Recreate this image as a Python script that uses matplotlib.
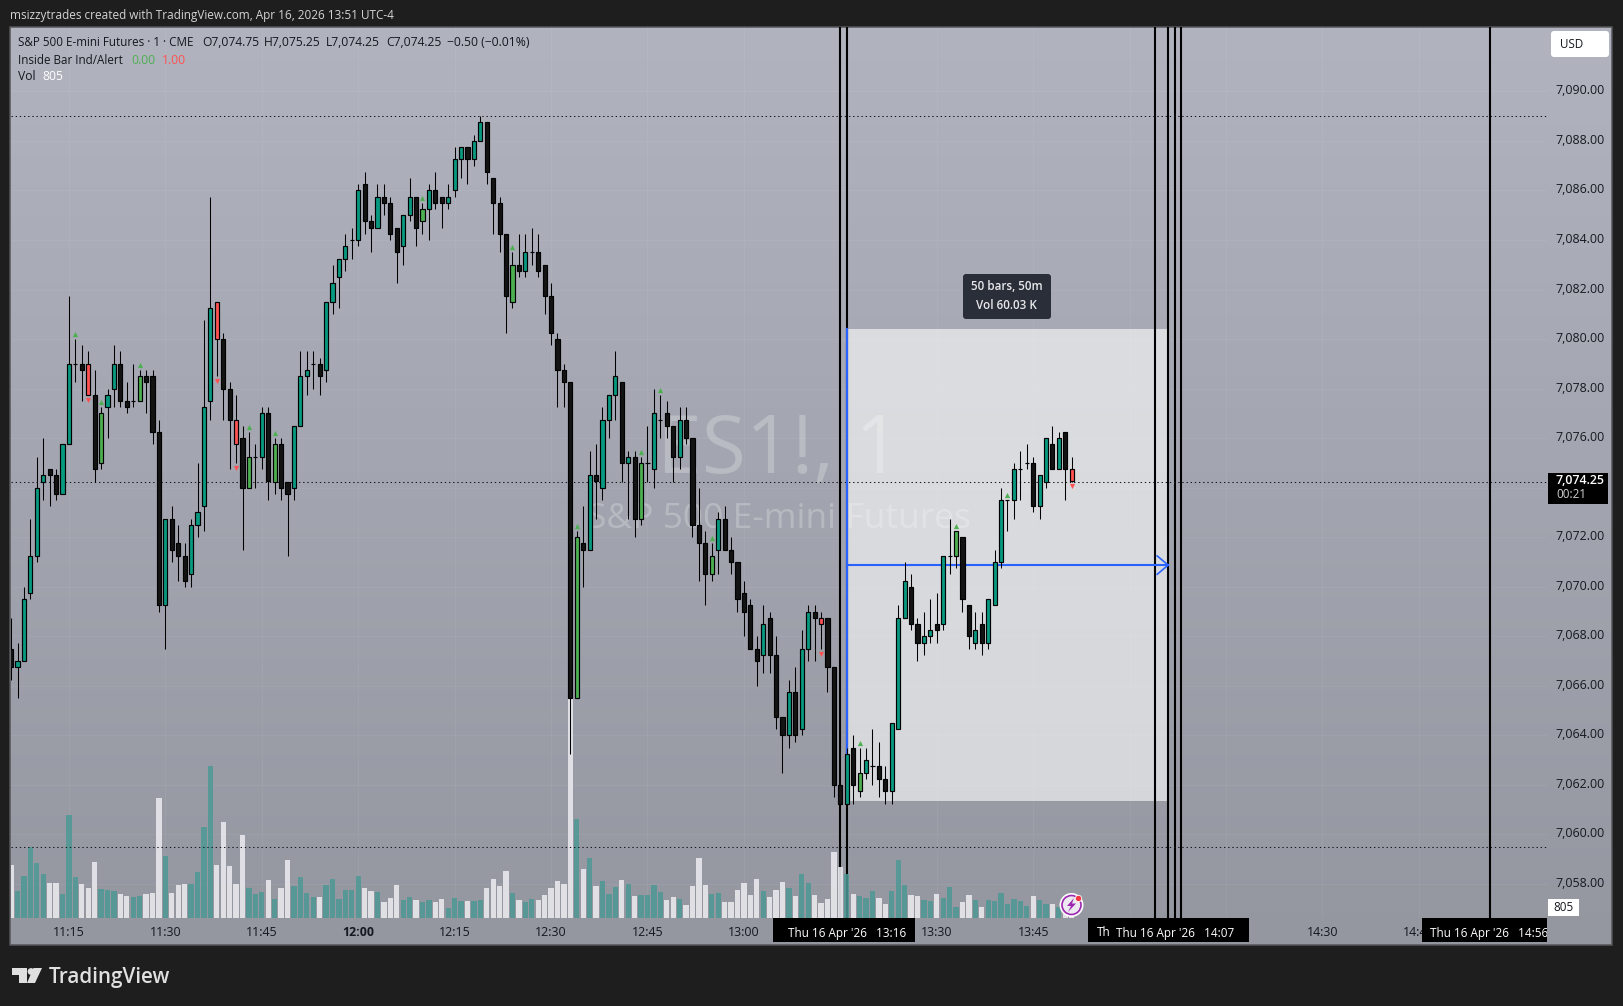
import numpy as np
import matplotlib
matplotlib.use("Agg")
import matplotlib.pyplot as plt
from matplotlib.patches import Rectangle, FancyBboxPatch, Circle, Polygon
from matplotlib.transforms import ScaledTranslation

W, H = 1623, 1006

# one minute bars, first bar is 11:06
opens = [7067.5,7066.75,7067,7069.75,7071.25,7074.25,7074.75,7074.5,7073.75,7075.75,
	7079,7079,7079,7077.75,7075,7077.25,7078,7079,7077.5,7077.5,
	7077.5,7078.5,7078.5,7076.25,7069.25,7072.75,7071.75,7071.25,7070.5,7072.5,
	7073.25,7077.5,7081.5,7080,7078,7076.75,7076,7074,7075.25,7075.25,
	7077,7074.25,7075.75,7074.25,7074,7076.5,7078.5,7079,7079,7078.75,
	7081.5,7082.5,7083.25,7084,7084,7086.25,7084.75,7084.5,7085.75,7085.5,
	7084.5,7083.75,7085,7085.75,7084.75,7085.25,7086,7085.75,7085.5,7086,
	7087.25,7087.75,7087.25,7088,7088.75,7086.5,7085.5,7084.25,7081.5,7083,
	7082.75,7083.5,7083.5,7083,7081.75,7080,7078.75,7078.25,7065.5,7071.75,
	7071.5,7074.5,7074,7076.75,7077.75,7078.25,7075,7075.25,7072.75,7075,
	7074.75,7076.75,7077,7076.5,7075.25,7076.75,7076,7072.5,7071.75,7070.5,
	7071.5,7072.75,7071.5,7071,7069.75,7069.25,7067.5,7067.25,7068.75,7067.25,
	7064.75,7064,7065.75,7064.25,7067.5,7069,7068.75,7068.75,7066.75,7062,
	7061.25,7063.5,7061.75,7062.5,7062.75,7062.75,7062.25,7061.75,7064.25,7068.75,
	7070,7068.5,7067.75,7068,7068.5,7068.5,7071.25,7071.25,7072,7069.25,
	7067.75,7068.5,7067.75,7069.25,7071,7073.5,7073.5,7074.75,7075,7075,
	7073.25,7074.25,7075.75,7074.75,7076.25,7074.75]
closes = [7066.75,7067,7069.5,7071.25,7074,7074.5,7074.5,7073.75,7075.75,7079,
	7079,7078.75,7077.75,7074.75,7077,7077.75,7079,7077.5,7077.25,7077.5,
	7078.5,7078.25,7076.25,7069.25,7072.75,7071.5,7071.25,7070.25,7072.5,7073,
	7077.25,7081.25,7080,7078,7076.75,7075.75,7074,7075.25,7075.25,7077,
	7074.25,7075.75,7074,7073.75,7076.5,7078.5,7078.75,7079,7078.5,7081.5,
	7082.25,7083.25,7083.75,7084,7086,7084.75,7084.5,7085.75,7085.5,7084.25,
	7083.5,7085,7085.75,7084.5,7085.25,7086,7085.5,7085.5,7085.75,7087.25,
	7087.75,7087.25,7088,7088.75,7086.75,7085.5,7084.25,7081.75,7083,7082.75,
	7083.5,7083.5,7082.75,7081.75,7080.25,7078.75,7078.25,7065.5,7072,7071.5,
	7074.5,7074.25,7076.75,7077.75,7078.5,7075,7075.25,7072.75,7075,7075,
	7077,7076.75,7076.5,7075.25,7076.75,7076,7072.5,7071.75,7070.5,7071.25,
	7072.75,7071.5,7071,7069.5,7069,7067.5,7067,7068.5,7067.25,7064.75,
	7064,7065.75,7064,7067.5,7069,7068.75,7068.5,7066.75,7062,7061.25,
	7063.25,7062,7062.5,7063,7062.75,7062.25,7061.75,7064.5,7068.75,7070.25,
	7068.5,7067.75,7068,7068.25,7068.25,7071.25,7071.25,7072.25,7069.5,7068,
	7068.25,7067.75,7069.5,7071,7073.5,7073.5,7074.75,7074.75,7075,7073.25,
	7074.5,7076,7074.75,7076,7074.75,7074.25]
highs = [7068.75,7067.75,7070,7072.75,7075.25,7076,7074.75,7074.75,7075.75,7081.75,
	7080,7079.75,7079.5,7078.75,7077.25,7078,7079.75,7079.5,7078.25,7079,
	7078.75,7078.75,7078.75,7076.75,7072.75,7073.25,7072.5,7071.75,7072.75,7075,
	7080.75,7085.75,7081.5,7080.25,7078.25,7077.75,7076.5,7076.25,7075.75,7077.25,
	7077.25,7076,7076,7074.25,7076.5,7079.5,7079.5,7079.5,7079.25,7081.5,
	7083,7083.25,7084.25,7084.5,7086.25,7086.75,7085,7086.25,7086.25,7085.75,
	7084.5,7085,7086.5,7085.75,7085.5,7086.25,7086.75,7085.75,7086.25,7087.75,
	7087.75,7087.75,7088.25,7089,7088.75,7086.5,7085.75,7084.25,7083.5,7084.25,
	7084.25,7084.5,7084.25,7083,7082.25,7080.25,7079,7078.25,7072.25,7073.25,
	7075.5,7075.75,7077.25,7077.75,7079.5,7078.25,7075.5,7075.5,7075.25,7076.5,
	7078,7077.75,7077.5,7076.5,7077.25,7077.25,7076,7074,7072.25,7071.75,
	7073,7073.25,7072,7071,7070.25,7069.5,7068,7069.25,7069,7068,
	7064.75,7066.25,7066.75,7068.25,7069.25,7069.25,7069,7068.75,7066.75,7062,
	7063.5,7064,7063.5,7063.5,7064.25,7063.75,7062.75,7064.5,7069.25,7071,
	7070.5,7068.75,7069,7069.5,7069.75,7071.25,7072.75,7072.25,7072,7069.25,
	7069,7069,7069.5,7071.5,7074,7073.5,7075,7075.5,7075.75,7075.25,
	7074.5,7076,7076.5,7076.25,7076.25,7075.25]
lows = [7066.25,7065.5,7067,7069.5,7071,7073.5,7073.25,7073.5,7073.75,7075.75,
	7078.25,7077.5,7077.75,7074.25,7074.75,7076,7077.25,7077.25,7077,7077.25,
	7077.5,7077,7075.75,7069,7067.5,7071,7070.25,7070,7070,7072,
	7072.25,7076.75,7078.5,7076.75,7074.75,7075,7071.5,7074,7074,7074.75,
	7073.5,7073.75,7073.5,7071.25,7073.5,7076.5,7077.75,7078,7077.75,7078.25,
	7081,7081.25,7082.75,7083.25,7083.75,7084.25,7083.5,7084.5,7085,7084,
	7082.25,7083,7084.75,7083.75,7084.25,7084,7085.25,7084.5,7085.25,7085.75,
	7086.5,7086.25,7087,7088,7086.25,7084.25,7083.5,7080.25,7081.25,7082.5,
	7082.5,7083,7082.5,7081,7079.75,7077.25,7077.25,7063.25,7065.5,7070,
	7071.5,7072.75,7073.5,7076,7076.75,7074.25,7072.75,7072,7072.5,7074.25,
	7074,7076,7076,7074.25,7074.75,7075.75,7072,7070.25,7069.25,7070.25,
	7070.5,7071.5,7070.5,7069,7068,7067.5,7066,7066.5,7066.5,7064.25,
	7062.5,7063.5,7063.75,7064,7067,7067,7067.5,7065.75,7061.5,7061.25,
	7061.25,7061.25,7061.5,7062.25,7062,7061.5,7061.25,7061.25,7064.25,7068.75,
	7068.25,7067,7067.25,7067.75,7067.75,7068.25,7070.5,7070.75,7069,7067.5,
	7067.5,7067.25,7067.5,7069.25,7070.75,7072.25,7072.75,7073.5,7074.75,7073,
	7072.75,7074,7074.75,7074.75,7073.5,7074.25]
volumes = [4108,2080,3250,5538,4264,3406,2704,2704,1846,8008,
	3172,2626,2314,4342,2236,2158,2080,1846,1690,1612,
	1690,1846,1924,9334,4810,1924,2548,2626,2626,3562,
	7072,11830,4108,7462,4030,2626,6448,2314,1846,2002,
	2938,1456,2314,4498,2470,3172,1924,1612,1612,2548,
	3016,1456,2158,2158,3250,2314,2080,2002,1222,1534,
	2548,1378,1612,1378,1222,1378,1222,1456,754,1534,
	1300,1300,1300,1378,2314,3016,2470,3640,1924,1378,
	1222,1456,1378,1768,2314,2860,2626,17800,7696,3796,
	4654,2470,2860,1846,2392,2938,2626,1690,1768,1768,
	2548,2002,1378,1612,1456,988,2470,4654,2548,1846,
	1924,1222,1222,2158,2704,1768,3016,2080,1612,2158,
	2782,2314,1690,3406,2704,1768,1144,1456,5122,3952,
	3406,1846,1690,1534,2080,1534,1066,2080,4498,2548,
	1768,1690,1378,1300,1846,1534,2392,832,1222,1768,
	1378,832,1378,1300,1924,1066,1456,1300,910,1690,
	1378,1066,1066,832,1300,805]

# inside bar indicator hits (bar numbers)
up_marks = [10,14,20,37,41,64,78,88,98,101,109,132,147,155]
down_marks = [12,32,35,126,165]

# bar numbers of the vertical lines, of the time range tool and of the axis ticks
vline_bars = [129,130,178,180,181,182,230]
range_start, range_end = 130, 180
range_low, range_high = 7061.35, 7080.4
dotted_prices = [7089,7074.25,7059.5]
price_ticks = list(range(7058, 7092, 2))
time_bars = [9,24,39,54,69,84,99,114,129,144,159,174,189,204,219]
# 13:15, 14:00 and 14:15 sit under the black date labels
time_labels = ["11:15","11:30","11:45","12:00","12:15","12:30","12:45","13:00","",
	"13:30","13:45","","","14:30","14:45"]

TEAL = "#089981"
BLACK = "#131313"
GREEN = "#4caf50"
RED = "#ff5252"
BLUE = "#2962ff"
DARK = "#1e1e1e"
TXT = "#16181f"
plt.rcParams["font.family"] = ["Open Sans", "DejaVu Sans"]

# pixel layout of the panes
plot_l, plot_r, plot_t, plot_b = 11, 1547, 27, 918
px_bar = 6.428
px_pt = 24.77
x0 = (plot_l - 11.1) / px_bar
x1 = (plot_r - 11.1) / px_bar
p_top = 7074.25 + (481.5 - plot_t) / px_pt
p_bot = 7074.25 - (plot_b - 481.5) / px_pt

def pane(l, t, r, b, zorder):
	a = fig.add_axes([l / W, 1 - b / H, (r - l) / W, (b - t) / H], zorder=zorder)
	a.patch.set_alpha(0)
	for s in a.spines.values():
		s.set_visible(False)
	return a

fig = plt.figure(figsize=(W / 100, H / 100), dpi=100, facecolor=DARK)

# background gradient
bg = pane(0, 0, W, H, 0)
bg.axis("off")
top_col = np.array([177, 180, 191]) / 255
bot_col = np.array([148, 151, 160]) / 255
grad = np.linspace(top_col, bot_col, 256)[:, None, :]
bg.imshow(grad, extent=(10, 1612, 945, 27), aspect="auto", zorder=0)
bg.set_xlim(0, W)
bg.set_ylim(H, 0)
bg.add_patch(Rectangle((10, 27), 1602, 918, fill=False, ec="#55565a", lw=1.1, zorder=1))

# back layer: grid, watermark, range box, black lines
back = pane(plot_l, plot_t, plot_r, plot_b, 1)
back.set_xlim(x0, x1)
back.set_ylim(p_bot, p_top)
back.set_xticks([])
back.set_yticks([])
for b in time_bars:
	back.axvline(b, color="white", alpha=0.05, lw=0.8, zorder=0)
for p in price_ticks:
	back.axhline(p, color="white", alpha=0.05, lw=0.8, zorder=0)
back.text(0.5, (plot_b - 452) / (plot_b - plot_t), "ES1!, 1", transform=back.transAxes, ha="center", va="center",
	fontsize=58, color="white", alpha=0.24, zorder=1)
back.text(0.5, (plot_b - 519) / (plot_b - plot_t), "S&P 500 E-mini Futures", transform=back.transAxes, ha="center", va="center",
	fontsize=25.5, color="white", alpha=0.24, zorder=1)
back.add_patch(Rectangle((range_start, range_low), range_end - range_start, range_high - range_low,
	fc="white", alpha=0.6, lw=0, zorder=2))
for b in vline_bars:
	back.axvline(b, color="black", lw=1.5, zorder=3)

# volume
vol = pane(plot_l, plot_t, plot_r, plot_b, 2)
vol.set_xlim(x0, x1)
vol.set_ylim(0, (plot_b - plot_t) * 78)
vol.set_xticks([])
vol.set_yticks([])
bars = np.arange(len(opens))
vol_cols = [(0.30, 0.60, 0.59, 0.85) if c >= o else (0.90, 0.90, 0.92, 0.92) for o, c in zip(opens, closes)]
vol.bar(bars, volumes, width=0.82, color=vol_cols, lw=0)

# price pane
ax = pane(plot_l, plot_t, plot_r, plot_b, 3)
ax.set_xlim(x0, x1)
ax.set_ylim(p_bot, p_top)
for p in dotted_prices:
	ax.axhline(p, color="#15161a", lw=0.75, dashes=(1.3, 2.7), zorder=1)

# range tool lines, above the black lines but below the candles
ax.plot([range_start, range_start], [range_low, range_high], color=BLUE, lw=1.6, zorder=2)
mid = (range_low + range_high) / 2
ax.plot([range_start, range_end], [mid, mid], color=BLUE, lw=1.5, zorder=2)
ax.plot([range_end - 1.7, range_end, range_end - 1.7], [mid + 0.37, mid, mid - 0.37], color=BLUE, lw=1.2, zorder=2,
	solid_joinstyle="miter")

body_cols = []
for i, (o, c) in enumerate(zip(opens, closes)):
	if i in down_marks:
		body_cols.append(RED)
	elif i in up_marks and c > o:
		body_cols.append(GREEN)
	elif c >= o:
		body_cols.append(TEAL)
	else:
		body_cols.append(BLACK)
ax.vlines(bars, lows, highs, color="black", lw=0.75, zorder=3)
ax.bar(bars, np.array(closes) - np.array(opens), bottom=opens, width=0.64, color=body_cols,
	edgecolor="black", lw=0.85, zorder=4)
ax.scatter(up_marks, [highs[i] + 0.2 for i in up_marks], marker="^", s=14, color=GREEN, lw=0, zorder=5)
ax.scatter(down_marks, [lows[i] - 0.2 for i in down_marks], marker="v", s=14, color=RED, lw=0, zorder=5)

# axes ticks, 7,074.00 is hidden by the last price tag
ax.yaxis.tick_right()
ax.set_yticks(price_ticks)
ax.set_yticklabels(["" if p == 7074 else f"{p:,.2f}" for p in price_ticks])
ax.set_xticks(time_bars)
ax.set_xticklabels(time_labels)
ax.tick_params(axis="y", length=0, pad=6.3, labelsize=8.9, labelcolor=TXT)
ax.tick_params(axis="x", length=0, pad=5.8, labelsize=8.9, labelcolor=TXT)
ax.get_xticklabels()[time_labels.index("12:00")].set_fontweight("bold")
lift = ScaledTranslation(0, 2 / 100, fig.dpi_scale_trans)
for tl in ax.get_yticklabels():
	tl.set_transform(tl.get_transform() + lift)

# overlay: legend texts, tags, tooltip
top = pane(0, 0, W, H, 4)
top.set_xlim(0, W)
top.set_ylim(H, 0)
top.axis("off")

def label(x, y, s, color=TXT, size=8.7, ha="left", **kw):
	return top.text(x, y, s, color=color, fontsize=size, ha=ha, va="center", **kw)

label(10, 15, "msizzytrades created with TradingView.com, Apr 16, 2026 13:51 UTC-4", color="#d4d4d4", size=8.46)
label(18, 42.5, "S&P 500 E-mini Futures · 1 · CME", size=8.35)
label(202, 42.5, "O7,074.75")
label(264, 42.5, "H7,075.25")
label(326, 42.5, "L7,074.25")
label(386, 42.5, "C7,074.25")
label(447, 42.5, "−0.50 (−0.01%)")
label(18, 60, "Inside Bar Ind/Alert", size=8.4)
label(131, 60, "0.00", color=GREEN)
label(162, 60, "1.00", color=RED)
label(18, 76.5, "Vol")
label(42, 76.5, "805", color="white")

# tool tip over the range box
top.add_patch(FancyBboxPatch((966, 277), 82, 39, boxstyle="round,pad=3,rounding_size=3", fc="#2a2e39", ec="none"))
label(1006.5, 286, "50 bars, 50m", color="#e8e8ec", size=8.4, ha="center", fontweight="semibold")
label(1006.5, 305.5, "Vol 60.03 K", color="#e8e8ec", size=8.4, ha="center", fontweight="semibold")

# price side tags
top.add_patch(FancyBboxPatch((1553, 33), 54, 22, boxstyle="round,pad=2,rounding_size=3", fc="white", ec="none"))
label(1560, 44, "USD", size=8.4)
top.add_patch(Rectangle((1548, 473), 60, 31, fc="black", lw=0))
label(1556, 480.5, "7,074.25", color="white", size=8.9, fontweight="semibold")
label(1556, 494.5, "00:21", color="#d0d0d0", size=8.4)
top.add_patch(Rectangle((1547.5, 899), 31.5, 17, fc="white", lw=0))
label(1563, 907.5, "805", size=8.4, ha="center")

# black date labels of the vertical lines
for l, r in [(773, 915), (1088, 1248.5), (1422, 1547)]:
	top.add_patch(Rectangle((l, plot_b), r - l, 24, fc="black", lw=0))
label(788, 933, "Thu 16 Apr '26   13:16", color="white", size=8.5)
label(1096.5, 933, "Th", color="white", size=8.5)
label(1115.5, 933, "Thu 16 Apr '26   14:07", color="white", size=8.5)
t = label(1430, 933, "Thu 16 Apr '26   14:56", color="white", size=8.5)
t.set_clip_on(True)
t.set_clip_path(Rectangle((1422, plot_b), 125, 24, transform=top.transData))

# alert bolt
top.add_patch(Circle((1071.5, 905), 12, fc="white", ec="none"))
top.add_patch(Circle((1071.5, 905), 9.5, fc="#eceaf0", ec="#9c27b0", lw=1.2))
top.add_patch(Polygon([(1074, 898), (1067, 906), (1071, 906), (1068, 912), (1076, 903.5), (1072, 903.5)],
	fc="#9c27b0", ec="none"))
top.add_patch(Circle((1078.5, 898.5), 3.2, fc="#f23645", ec="white", lw=0.6))

# TradingView logo
top.add_patch(Polygon([(12, 968), (27, 968), (27, 983), (19, 983), (19, 975), (12, 975)], fc="#e0e0e0", ec="none"))
top.add_patch(Circle((31, 971.5), 3.4, fc="#e0e0e0", ec="none"))
top.add_patch(Polygon([(33.5, 968), (42, 968), (35, 983), (27, 983)], fc="#e0e0e0", ec="none"))
label(49, 977, "TradingView", color="#e0e0e0", size=14.9, fontweight="semibold")

fig.savefig("out.png", dpi=100, facecolor=DARK)
